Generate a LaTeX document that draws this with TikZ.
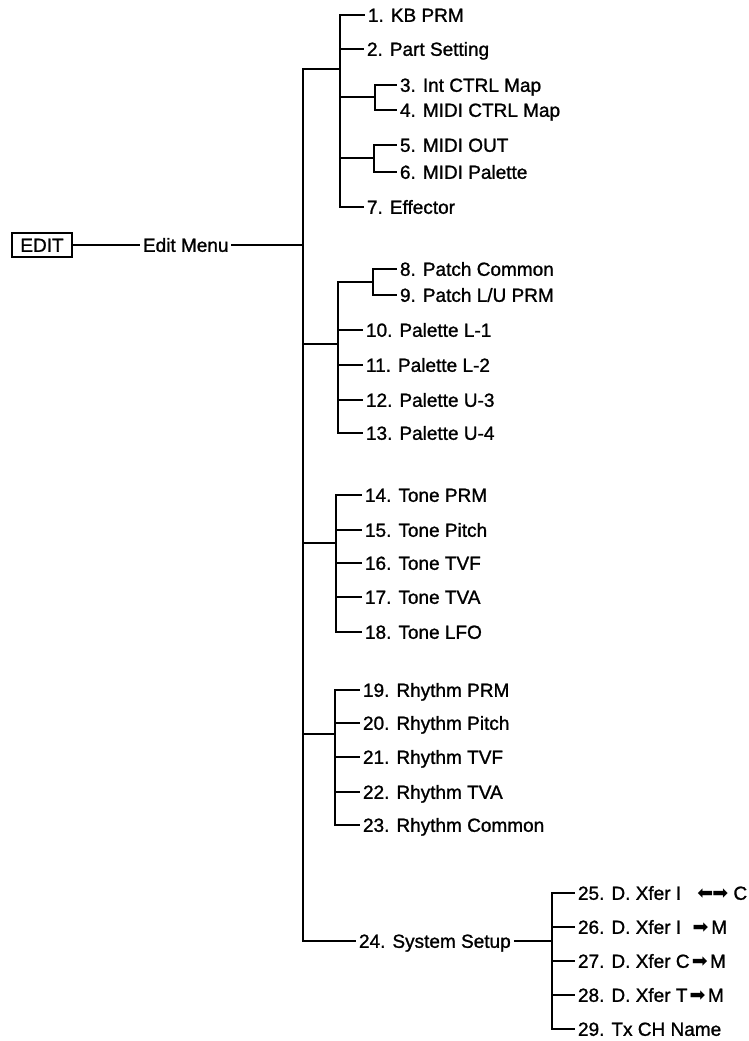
\documentclass[tikz,border=0pt]{standalone}
\usepackage{fontspec}
\setmainfont{Liberation Sans}
\newfontfamily\itemfont[FakeBold=1.2]{Liberation Sans}
\newfontfamily\symfont{DejaVu Sans}
\begin{document}
\begin{tikzpicture}[x=1pt,y=-1pt,
  wire/.style={line width=1.7pt, line cap=rect},
  thinwire/.style={line width=1.1pt, line cap=rect},
  item/.style={anchor=west, inner xsep=3.5pt, inner ysep=0pt, outer sep=0pt,
    font=\itemfont\fontsize{19}{22}\selectfont, text height=13.6pt, text depth=0pt},
  editbox/.style={draw, line width=1.6pt, minimum width=60pt, minimum height=24pt,
    inner sep=0pt, font=\itemfont\fontsize{19}{22}\selectfont, text height=13.6pt, text depth=0pt}]
\useasboundingbox (0,0) rectangle (749,1041);

% root
\node[editbox] (edit) at (42,245) {EDIT};
\node[item] (em) at (139.5,245) {Edit Menu};
\coordinate (mroot) at (303,245);
\coordinate (mt) at (303,69);
\coordinate (mb) at (303,941);

% group 1
\coordinate (g1c) at (340,69);
\coordinate (g1t) at (340,15);
\coordinate (g1b) at (340,207);
\coordinate (g1s1) at (340,97);
\coordinate (g1s2) at (340,158);
\coordinate (s34) at (375,97);
\coordinate (s3) at (375,85);
\coordinate (s4) at (375,110);
\coordinate (s56) at (374,158);
\coordinate (s5) at (374,145);
\coordinate (s6) at (374,172);
\coordinate (g1i2) at (340,49);
\node[item] (n1) at (364.5,15) {1. KB PRM};
\node[item] (n2) at (363.5,49) {2. Part Setting};
\node[item] (n3) at (396.5,85) {3. Int CTRL Map};
\node[item] (n4) at (396.5,110) {4. MIDI CTRL Map};
\node[item] (n5) at (396.5,145) {5. MIDI OUT};
\node[item] (n6) at (396.5,172) {6. MIDI Palette};
\node[item] (n7) at (363.5,207) {7. Effector};

% group 2
\coordinate (m2) at (303,344);
\coordinate (g2c) at (338,344);
\coordinate (g2t) at (338,282);
\coordinate (g2b) at (338,433);
\coordinate (s89) at (373,282);
\coordinate (s8) at (373,269);
\coordinate (s9) at (373,295);
\coordinate (g2i10) at (338,330);
\coordinate (g2i11) at (338,365);
\coordinate (g2i12) at (338,400);
\node[item] (n8) at (396.5,269) {8. Patch Common};
\node[item] (n9) at (396.5,295) {9. Patch L/U PRM};
\node[item] (n10) at (362.5,330) {10. Palette L-1};
\node[item] (n11) at (362.5,365) {11. Palette L-2};
\node[item] (n12) at (362.5,400) {12. Palette U-3};
\node[item] (n13) at (362.5,433) {13. Palette U-4};

% group 3
\coordinate (m3) at (303,543);
\coordinate (g3c) at (336,543);
\coordinate (g3t) at (336,495);
\coordinate (g3b) at (336,632);
\coordinate (g3i15) at (336,530);
\coordinate (g3i16) at (336,563);
\coordinate (g3i17) at (336,597);
\node[item] (n14) at (361.5,495) {14. Tone PRM};
\node[item] (n15) at (361.5,530) {15. Tone Pitch};
\node[item] (n16) at (361.5,563) {16. Tone TVF};
\node[item] (n17) at (361.5,597) {17. Tone TVA};
\node[item] (n18) at (361.5,632) {18. Tone LFO};

% group 4
\coordinate (m4) at (303,734);
\coordinate (g4c) at (335,734);
\coordinate (g4t) at (335,690);
\coordinate (g4b) at (335,825);
\coordinate (g4i20) at (335,723);
\coordinate (g4i21) at (335,757);
\coordinate (g4i22) at (335,792);
\node[item] (n19) at (359.5,690) {19. Rhythm PRM};
\node[item] (n20) at (359.5,723) {20. Rhythm Pitch};
\node[item] (n21) at (359.5,757) {21. Rhythm TVF};
\node[item] (n22) at (359.5,792) {22. Rhythm TVA};
\node[item] (n23) at (359.5,825) {23. Rhythm Common};

% group 5
\node[item] (n24) at (355.5,941) {24. System Setup};
\coordinate (g5c) at (552,941);
\coordinate (g5t) at (552,893);
\coordinate (g5b) at (552,1029);
\coordinate (g5i26) at (552,927);
\coordinate (g5i27) at (552,961);
\coordinate (g5i28) at (552,995);
\node[item] (n25) at (574.5,893) {25. D. Xfer I\hspace{0.85em}{\symfont ⬅\hspace{-0.05em}➡} C};
\node[item] (n26) at (574.5,927) {26. D. Xfer I\hspace{0.6em}{\symfont ➡}\hspace{0.15em}M};
\node[item] (n27) at (574.5,961) {27. D. Xfer C\hspace{0.12em}{\symfont ➡}\hspace{0.12em}M};
\node[item] (n28) at (574.5,995) {28. D. Xfer T\hspace{0.12em}{\symfont ➡}\hspace{0.12em}M};
\node[item] (n29) at (574.5,1029) {29. Tx CH Name};

% connectors
\draw[thinwire] (edit) -- (em);
\draw[wire] (em) -- (mroot);
\draw[wire] (g1c) -- (mt) -- (mb) -- (n24);
\draw[wire] (g1t) -- (g1b);
\draw[wire] (g1t) -- (n1);
\draw[wire] (g1i2) -- (n2);
\draw[wire] (g1b) -- (n7);
\draw[wire] (g1s1) -- (s34);
\draw[wire] (s3) -- (s4);
\draw[wire] (s3) -- (n3);
\draw[wire] (s4) -- (n4);
\draw[wire] (g1s2) -- (s56);
\draw[wire] (s5) -- (s6);
\draw[wire] (s5) -- (n5);
\draw[wire] (s6) -- (n6);

\draw[wire] (m2) -- (g2c);
\draw[wire] (g2t) -- (g2b);
\draw[wire] (g2t) -- (s89);
\draw[wire] (s8) -- (s9);
\draw[wire] (s8) -- (n8);
\draw[wire] (s9) -- (n9);
\draw[wire] (g2i10) -- (n10);
\draw[wire] (g2i11) -- (n11);
\draw[wire] (g2i12) -- (n12);
\draw[wire] (g2b) -- (n13);

\draw[wire] (m3) -- (g3c);
\draw[wire] (g3t) -- (g3b);
\draw[wire] (g3t) -- (n14);
\draw[wire] (g3i15) -- (n15);
\draw[wire] (g3i16) -- (n16);
\draw[wire] (g3i17) -- (n17);
\draw[wire] (g3b) -- (n18);

\draw[wire] (m4) -- (g4c);
\draw[wire] (g4t) -- (g4b);
\draw[wire] (g4t) -- (n19);
\draw[wire] (g4i20) -- (n20);
\draw[wire] (g4i21) -- (n21);
\draw[wire] (g4i22) -- (n22);
\draw[wire] (g4b) -- (n23);

\draw[thinwire] (n24) -- (g5c);
\draw[wire] (g5t) -- (g5b);
\draw[wire] (g5t) -- (n25);
\draw[wire] (g5i26) -- (n26);
\draw[wire] (g5i27) -- (n27);
\draw[wire] (g5i28) -- (n28);
\draw[wire] (g5b) -- (n29);
\end{tikzpicture}
\end{document}
